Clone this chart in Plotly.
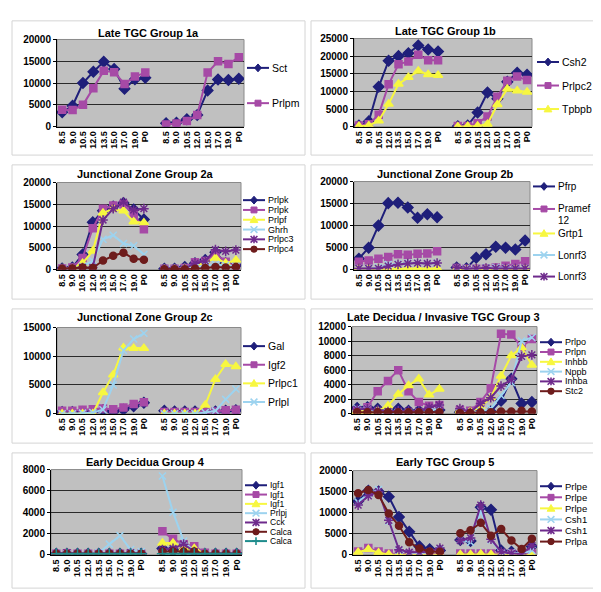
import plotly.graph_objects as go

W, H = 601, 592
FONT = "Liberation Sans, Arial, sans-serif"

# ---------------- categories ----------------
early_labels = ["8.5", "9.0", "10.5", "12.0", "13.5", "15.0", "17.0", "19.0", "P0"]
late_labels = ["8.5", "9.0", "10.5", "12.0", "15.0", "17.0", "19.0", "P0"]
tick_labels = early_labels + [""] + late_labels

# ---------------- data (first 9 = early set, last 8 = second set) ----------------
# Late TGC Group 1a
g1a_names = ["Sct", "Prlpm"]
g1a_sct = [3300, 4800, 10000, 12600, 14900, 13200, 8700, 10900, 11200,
           800, 900, 1700, 2700, 8300, 10800, 10700, 11000]
g1a_prlpm = [3900, 3800, 5000, 8800, 12800, 12500, 9800, 11500, 12400,
             500, 700, 1300, 2700, 12400, 15000, 14400, 15900]

# Late TGC Group 1b
g1b_names = ["Csh2", "Prlpc2", "Tpbpb"]
g1b_csh2 = [300, 1500, 11300, 18700, 20000, 20800, 23000, 21900, 21300,
            100, 300, 4000, 9700, 7900, 12700, 15300, 14700]
g1b_prlpc2 = [300, 700, 3400, 12000, 17700, 18500, 20400, 18800, 18800,
              200, 200, 1000, 2900, 8500, 13000, 14200, 13200]
g1b_tpbpb = [100, 300, 1700, 6400, 12100, 14000, 15800, 14800, 14600,
             0, 100, 200, 700, 6300, 10700, 10200, 9800]

# Junctional Zone Group 2a
g2a_names = ["Prlpk", "Prlpk", "Prlpf", "Ghrh", "Prlpc3", "Prlpc4"]
g2a_prlpk1 = [300, 500, 3500, 10900, 13500, 14500, 15300, 13800, 11500,
              200, 200, 600, 1500, 2200, 4000, 1500, 1000]
g2a_prlpk2 = [300, 500, 2700, 9500, 14000, 14700, 15000, 12800, 9300,
              200, 200, 400, 1700, 2000, 3700, 1800, 700]
g2a_prlpf = [200, 300, 1500, 4300, 13000, 14000, 13500, 11000, 10800,
             100, 100, 300, 1000, 1600, 2700, 1500, 2200]
g2a_ghrh = [100, 200, 800, 2000, 7000, 7900, 6000, 5500, 3500,
            100, 100, 200, 500, 1000, 1200, 1000, 800]
g2a_prlpc3 = [200, 300, 500, 500, 11400, 14000, 15500, 13700, 14000,
              100, 100, 200, 1500, 2000, 4600, 4200, 4500]
g2a_prlpc4 = [200, 300, 500, 400, 2100, 3200, 3900, 2500, 2300,
              100, 100, 100, 200, 400, 600, 500, 600]

# Junctional Zone Group 2b
g2b_names = ["Pfrp", "Pramef<br>12", "Grtp1", "Lonrf3", "Lonrf3"]
g2b_pfrp = [2500, 5000, 10000, 15100, 15200, 14100, 11800, 12600, 11900,
            500, 300, 2700, 3500, 5200, 5000, 4600, 6600]
g2b_pramef12 = [1800, 2100, 2500, 2900, 3500, 3400, 3600, 3700, 4200,
                400, 200, 200, 300, 500, 900, 1300, 1900]
g2b_grtp1 = [200, 200, 300, 300, 300, 300, 300, 300, 300,
             100, 100, 100, 100, 100, 100, 100, 100]
g2b_lonrf3a = [300, 300, 500, 1200, 1300, 1500, 1500, 1400, 1500,
               500, 300, 300, 500, 500, 400, 300, 300]
g2b_lonrf3b = [300, 300, 300, 800, 1200, 1400, 1500, 1400, 1500,
               500, 200, 300, 400, 300, 300, 300, 300]

# Junctional Zone Group 2c
g2c_names = ["Gal", "Igf2", "Prlpc1", "Prlpl"]
g2c_gal = [300, 300, 300, 400, 600, 300, 700, 1300, 1900,
           500, 400, 400, 400, 400, 400, 500, 600]
g2c_igf2 = [500, 500, 700, 800, 900, 800, 1100, 1700, 2000,
            300, 300, 300, 300, 300, 400, 600, 700]
g2c_prlpc1 = [0, 0, 0, 0, 3700, 6800, 11500, 11400, 11400,
              0, 0, 0, 0, 1500, 6000, 8600, 8200]
g2c_prlpl = [0, 0, 100, 200, 700, 5000, 11000, 13000, 14000,
             0, 0, 0, 0, 200, 500, 2500, 4300]

# Late Decidua / Invasive TGC Group 3
g3_names = ["Prlpo", "Prlpn", "Inhbb", "Nppb", "Inhba", "Stc2"]
g3_prlpo = [800, 900, 700, 200, 700, 400, 400, 400, 500,
            200, 200, 300, 300, 1800, 4800, 1400, 1600]
g3_prlpn = [400, 900, 3100, 4500, 6000, 3100, 1600, 1100, 1200,
            500, 400, 1600, 3500, 11000, 10900, 9200, 10300]
g3_inhbb = [300, 300, 400, 1100, 2700, 3900, 4800, 2600, 3400,
            400, 300, 900, 2200, 5200, 8000, 9100, 6700]
g3_nppb = [700, 700, 200, 100, 200, 200, 200, 300, 800,
           200, 200, 300, 700, 2500, 4300, 10000, 10500]
g3_inhba = [600, 700, 500, 300, 400, 400, 400, 900, 1200,
            700, 200, 1400, 2200, 3800, 4700, 7900, 8100]
g3_stc2 = [200, 200, 200, 200, 200, 200, 200, 200, 200,
           100, 100, 200, 200, 300, 300, 400, 300]

# Early Decidua Group 4
g4_names = ["Igf1", "Igf1", "Igf1", "Prlpj", "Cck", "Calca", "Calca"]
g4_igf1a = [100, 100, 100, 100, 100, 100, 100, 100, 100,
            600, 500, 400, 200, 100, 100, 100, 100]
g4_igf1b = [100, 150, 100, 100, 100, 100, 100, 100, 100,
            2200, 1500, 1000, 800, 200, 100, 100, 100]
g4_igf1c = [50, 50, 50, 50, 50, 50, 50, 50, 50,
            1100, 1100, 600, 600, 100, 50, 50, 50]
g4_prlpj = [100, 100, 100, 100, 200, 1000, 1800, 500, 300,
            7400, 4000, 1300, 300, 100, 100, 100, 100]
g4_cck = [100, 200, 100, 100, 100, 100, 100, 200, 100,
          500, 600, 1000, 300, 100, 100, 100, 100]
g4_calca1 = [100, 100, 100, 100, 100, 100, 100, 100, 100,
             300, 300, 300, 300, 100, 100, 100, 100]
g4_calca2 = [100, 100, 100, 100, 100, 100, 100, 100, 100,
             100, 100, 100, 100, 100, 100, 100, 100]

# Early TGC Group 5
g5_names = ["Prlpe", "Prlpe", "Prlpe", "Csh1", "Csh1", "Prlpa"]
g5_prlpe1 = [12700, 15200, 15000, 13800, 9000, 5500, 2000, 1300, 1000,
             3500, 3300, 11300, 10700, 1000, 700, 300, 2000]
g5_prlpe2 = [800, 1600, 800, 300, 200, 200, 200, 200, 200,
             300, 300, 300, 300, 300, 300, 300, 300]
g5_prlpe3 = [600, 1300, 500, 100, 0, 0, 0, 0, 0,
             100, 100, 200, 100, 0, 0, 0, 0]
g5_csh1a = [12500, 14500, 15500, 8000, 1000, 500, 500, 500, 1200,
            3500, 3000, 10500, 3500, 500, 500, 300, 1000]
g5_csh1b = [11800, 14000, 15000, 8200, 1200, 600, 600, 700, 1600,
            3400, 4000, 11800, 3700, 700, 300, 200, 2200]
g5_prlpa = [14600, 15400, 14200, 9800, 6900, 3000, 1500, 800, 700,
            5100, 5800, 7600, 4500, 6100, 3400, 1400, 3800]

# ---------------- styles (Excel default series order) ----------------
STYLES = [
    dict(color="#1f1f7a", symbol="diamond", size=8),
    dict(color="#a64aa6", symbol="square", size=7),
    dict(color="#f7f740", symbol="triangle-up", size=8),
    dict(color="#9dd3ef", symbol="x-thin-open", size=7),
    dict(color="#6e2a8c", symbol="asterisk-open", size=8),
    dict(color="#6e1c1c", symbol="circle", size=7),
    dict(color="#1f8c8c", symbol="cross-thin-open", size=8),
]

# ---------------- panel layout (pixels) ----------------
panels = [
    dict(title="Late TGC Group 1a", names=g1a_names, series=[g1a_sct, g1a_prlpm],
         ymax=20000, dtick=5000, box=(4, 7, 297, 144), plot=(49, 26, 236, 115),
         title_xy=(140, 19), leg_x=239, leg_y=[55, 91], leg_font=10.5),
    dict(title="Late TGC Group 1b", names=g1b_names, series=[g1b_csh2, g1b_prlpc2, g1b_tpbpb],
         ymax=25000, dtick=5000, box=(303, 7, 597, 144), plot=(346, 25, 524, 115),
         title_xy=(437, 17), leg_x=529, leg_y=[49, 73, 97], leg_font=10.5),
    dict(title="Junctional Zone Group 2a", names=g2a_names,
         series=[g2a_prlpk1, g2a_prlpk2, g2a_prlpf, g2a_ghrh, g2a_prlpc3, g2a_prlpc4],
         ymax=20000, dtick=5000, box=(4, 154, 297, 291), plot=(49, 172, 233, 261),
         title_xy=(137, 163), leg_x=235, leg_y=[190, 200, 210, 220, 230, 240], leg_font=9),
    dict(title="Junctional Zone Group 2b", names=g2b_names,
         series=[g2b_pfrp, g2b_pramef12, g2b_grtp1, g2b_lonrf3a, g2b_lonrf3b],
         ymax=20000, dtick=5000, box=(303, 154, 597, 291), plot=(346, 171, 522, 261),
         title_xy=(437, 163), leg_x=525, leg_y=[176, 199, 224, 246, 268], leg_font=10),
    dict(title="Junctional Zone Group 2c", names=g2c_names,
         series=[g2c_gal, g2c_igf2, g2c_prlpc1, g2c_prlpl],
         ymax=15000, dtick=5000, box=(4, 301, 297, 438), plot=(49, 320, 233, 408),
         title_xy=(137, 309), leg_x=235, leg_y=[339, 358, 377, 396], leg_font=10.5),
    dict(title="Late Decidua / Invasive TGC Group 3", names=g3_names,
         series=[g3_prlpo, g3_prlpn, g3_inhbb, g3_nppb, g3_inhba, g3_stc2],
         ymax=12000, dtick=2000, box=(303, 301, 597, 438), plot=(344, 319, 529, 408),
         title_xy=(435, 309), leg_x=532, leg_y=[335, 345, 355, 365, 375, 385], leg_font=9),
    dict(title="Early Decidua Group 4", names=g4_names,
         series=[g4_igf1a, g4_igf1b, g4_igf1c, g4_prlpj, g4_cck, g4_calca1, g4_calca2],
         ymax=8000, dtick=2000, box=(4, 448, 297, 586), plot=(43, 465, 234, 552),
         title_xy=(137, 457), leg_x=237, leg_y=[481, 490.5, 500, 509.5, 519, 528.5, 538],
         leg_font=8.5),
    dict(title="Early TGC Group 5", names=g5_names,
         series=[g5_prlpe1, g5_prlpe2, g5_prlpe3, g5_csh1a, g5_csh1b, g5_prlpa],
         ymax=20000, dtick=5000, box=(303, 448, 597, 586), plot=(345, 466, 529, 552),
         title_xy=(437, 457), leg_x=532, leg_y=[482, 493.3, 504.6, 515.9, 527.2, 538.5],
         leg_font=9.5),
]


def px(x):
    return x / W


def py(y):
    return 1 - y / H


def with_gap(vals):
    return list(vals[:9]) + [None] + list(vals[9:])


xpos = list(range(len(tick_labels)))

fig = go.Figure()
shapes = []
annotations = []
layout = {}


def marker_shape(kind, cx, cy, color):
    s = 3.4
    if kind == "diamond":
        path = (f"M{px(cx)},{py(cy - s - 0.6)} L{px(cx + s)},{py(cy)} "
                f"L{px(cx)},{py(cy + s + 0.6)} L{px(cx - s)},{py(cy)} Z")
        return dict(type="path", path=path, fillcolor=color, line=dict(color=color, width=1))
    if kind == "square":
        return dict(type="rect", x0=px(cx - 3), x1=px(cx + 3), y0=py(cy + 3), y1=py(cy - 3),
                    fillcolor=color, line=dict(color=color, width=1))
    if kind == "triangle-up":
        path = (f"M{px(cx)},{py(cy - s - 0.5)} L{px(cx + s + 0.5)},{py(cy + s - 0.5)} "
                f"L{px(cx - s - 0.5)},{py(cy + s - 0.5)} Z")
        return dict(type="path", path=path, fillcolor=color, line=dict(color=color, width=1))
    if kind == "x-thin-open":
        path = (f"M{px(cx - s)},{py(cy - s)} L{px(cx + s)},{py(cy + s)} "
                f"M{px(cx - s)},{py(cy + s)} L{px(cx + s)},{py(cy - s)}")
        return dict(type="path", path=path, line=dict(color=color, width=1.6))
    if kind == "asterisk-open":
        path = (f"M{px(cx - s)},{py(cy - s)} L{px(cx + s)},{py(cy + s)} "
                f"M{px(cx - s)},{py(cy + s)} L{px(cx + s)},{py(cy - s)} "
                f"M{px(cx)},{py(cy - s - 0.5)} L{px(cx)},{py(cy + s + 0.5)}")
        return dict(type="path", path=path, line=dict(color=color, width=1.6))
    if kind == "circle":
        return dict(type="circle", x0=px(cx - 3.2), x1=px(cx + 3.2), y0=py(cy + 3.2),
                    y1=py(cy - 3.2), fillcolor=color, line=dict(color=color, width=1))
    path = (f"M{px(cx - s - 0.5)},{py(cy)} L{px(cx + s + 0.5)},{py(cy)} "
            f"M{px(cx)},{py(cy - s - 0.5)} L{px(cx)},{py(cy + s + 0.5)}")
    return dict(type="path", path=path, line=dict(color=color, width=1.6))


for i, p in enumerate(panels):
    n = i + 1
    xa = "x" if n == 1 else f"x{n}"
    ya = "y" if n == 1 else f"y{n}"
    L, T, R, B = p["plot"]
    # panel frame
    bx0, by0, bx1, by1 = p["box"]
    shapes.append(dict(type="rect", xref="paper", yref="paper", x0=px(bx0), x1=px(bx1),
                       y0=py(by1), y1=py(by0), line=dict(color="#d4d4d4", width=1),
                       fillcolor="rgba(0,0,0,0)", layer="below"))
    # plot area fill + border
    shapes.append(dict(type="rect", xref="paper", yref="paper", x0=px(L), x1=px(R),
                       y0=py(B), y1=py(T), line=dict(color="#8a8a8a", width=1),
                       fillcolor="#c0c0c0", layer="below"))
    layout["xaxis" if n == 1 else f"xaxis{n}"] = dict(
        domain=[px(L), px(R)], anchor=ya, range=[-0.5, len(tick_labels) - 0.5],
        tickmode="array", tickvals=xpos, ticktext=tick_labels, tickangle=-90,
        tickfont=dict(family=FONT, size=9, color="#000000", weight="bold"),
        showgrid=False, zeroline=False, showline=True, linecolor="#000000", linewidth=1,
        ticks="", fixedrange=True,
    )
    layout["yaxis" if n == 1 else f"yaxis{n}"] = dict(
        domain=[py(B), py(T)], anchor=xa, range=[0, p["ymax"]], dtick=p["dtick"],
        tick0=0, tickformat="d",
        tickfont=dict(family=FONT, size=10, color="#000000", weight="bold"),
        showgrid=True, gridcolor="#2a2a2a", gridwidth=1, zeroline=False,
        showline=True, linecolor="#000000", linewidth=1, ticks="outside", ticklen=3,
        tickcolor="#000000", fixedrange=True,
    )
    # title
    annotations.append(dict(text=f"<b>{p['title']}</b>", xref="paper", yref="paper",
                            x=px(p["title_xy"][0]), y=py(p["title_xy"][1]),
                            xanchor="center", yanchor="middle", showarrow=False,
                            font=dict(family=FONT, size=11, color="#000000")))
    for k, (name, vals) in enumerate(zip(p["names"], p["series"])):
        st = STYLES[k]
        fig.add_trace(go.Scatter(
            x=xpos, y=with_gap(vals), xaxis=xa, yaxis=ya, mode="lines+markers",
            name=name.replace("<br>", " "), showlegend=False, connectgaps=False,
            line=dict(color=st["color"], width=2),
            marker=dict(symbol=st["symbol"], size=st["size"], color=st["color"],
                        line=dict(color=st["color"], width=1.5)),
            hoverinfo="skip",
        ))
        # legend key (drawn as decoration)
        lx = p["leg_x"]
        ly = p["leg_y"][k]
        shapes.append(dict(type="line", xref="paper", yref="paper", x0=px(lx), x1=px(lx + 22),
                           y0=py(ly), y1=py(ly), line=dict(color=st["color"], width=2)))
        ms = marker_shape(st["symbol"], lx + 11, ly, st["color"])
        ms.update(xref="paper", yref="paper")
        shapes.append(ms)
        fsize = p["leg_font"]
        for j, part in enumerate(name.split("<br>")):
            annotations.append(dict(text=part, xref="paper", yref="paper",
                                    x=px(lx + 23), y=py(ly + j * 11.5),
                                    xanchor="left", yanchor="middle", showarrow=False,
                                    font=dict(family=FONT, size=fsize, color="#000000")))

fig.update_layout(
    width=W, height=H, margin=dict(l=0, r=0, t=0, b=0),
    paper_bgcolor="#ffffff", plot_bgcolor="rgba(0,0,0,0)",
    showlegend=False, shapes=shapes, annotations=annotations,
    font=dict(family=FONT, color="#000000"),
    **layout,
)

fig.write_html("out.html")
